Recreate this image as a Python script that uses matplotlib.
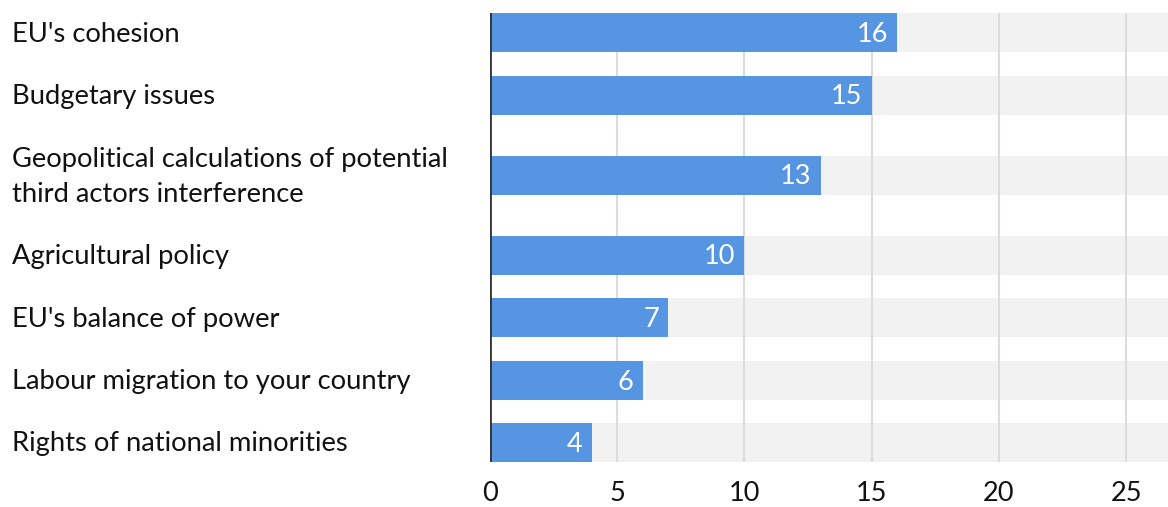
import matplotlib
matplotlib.use("Agg")
import matplotlib.pyplot as plt
import matplotlib.transforms as mtransforms
import numpy as np

categories = ["EU's cohesion", "Budgetary issues",
              "Geopolitical calculations of potential\nthird actors interference",
              "Agricultural policy", "EU's balance of power",
              "Labour migration to your country", "Rights of national minorities"]
values = [16, 15, 13, 10, 7, 6, 4]
xticks = [0, 5, 10, 15, 20, 25]

plt.rcParams['font.family'] = ['Lato', 'DejaVu Sans']

# row spacing grows with the number of label lines
lines = [c.count("\n") + 1 for c in categories]
row_h = [62.5 + 35 * (n - 1) for n in lines]
ypos = [0.0]
for i in range(1, len(row_h)):
    ypos.append(ypos[-1] + (row_h[i - 1] + row_h[i]) / 2)
ypos = np.array(ypos)
bar_h = 39
xmax = 26.65

fig = plt.figure(figsize=(11.68, 5.07), dpi=100)
ax = fig.add_axes([490 / 1168, 45 / 507, 1 - 490 / 1168, 449 / 507])

ax.barh(ypos, [xmax] * len(values), height=bar_h, color='#f2f2f2', zorder=1)
for x in xticks[1:]:
    ax.axvline(x, color='#dcdcdc', lw=1.5, zorder=2)
ax.barh(ypos, values, height=bar_h, color='#5595e2', zorder=3)
ax.axvline(0, color='#333333', lw=2, zorder=4)

for y, v in zip(ypos, values):
    ax.annotate(str(v), (v, y), xytext=(-9, -2), textcoords='offset pixels',
                ha='right', va='center', color='white', fontsize=19.5, zorder=5)

trans = mtransforms.blended_transform_factory(fig.transFigure, ax.transData)
for y, c in zip(ypos, categories):
    ax.text(12 / 1168, y + 1.5, c, transform=trans, ha='left', va='center',
            fontsize=19.7, color='#111111', linespacing=1.5)

ax.set_xlim(0, xmax)
ax.set_ylim(ypos[-1] + bar_h / 2, -bar_h / 2)
ax.set_xticks(xticks)
ax.set_xticklabels([str(t) for t in xticks], fontsize=19.5, color='#111111')
ax.tick_params(axis='x', length=0, pad=14)
ax.set_yticks([])
for s in ax.spines.values():
    s.set_visible(False)

fig.savefig("out.png", dpi=100)
